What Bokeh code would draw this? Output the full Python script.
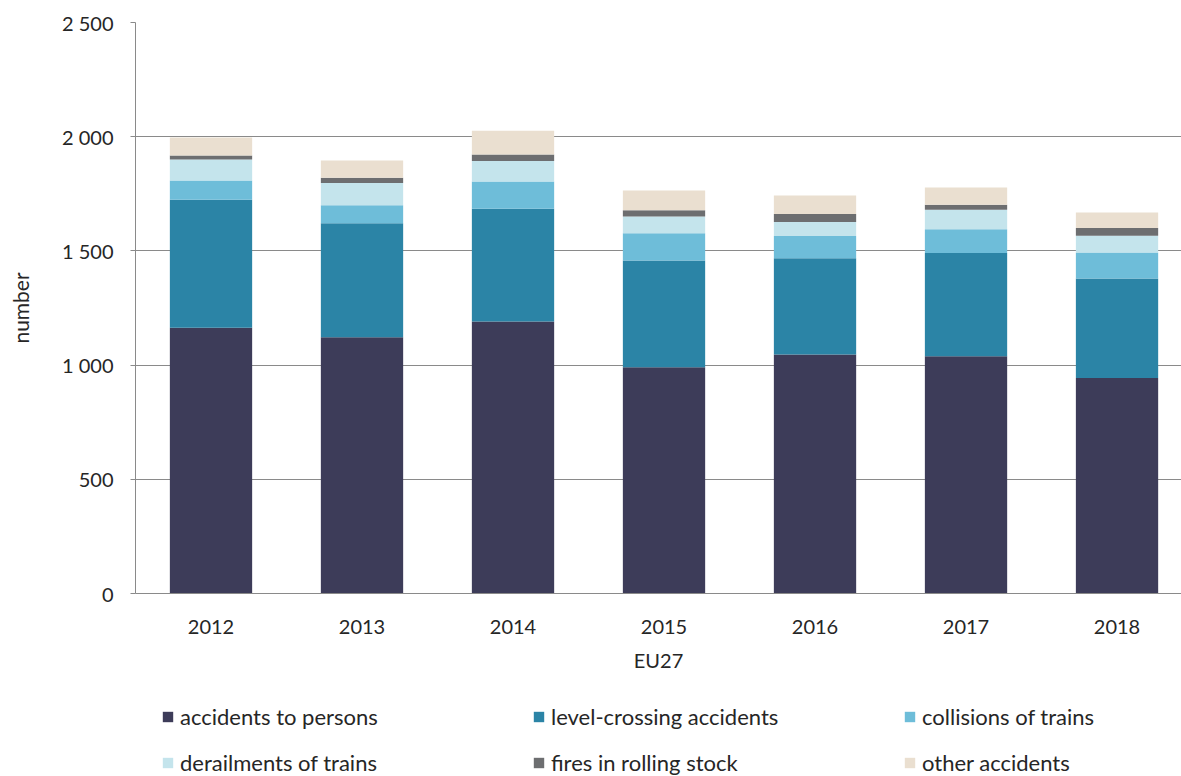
from bokeh.plotting import figure
from bokeh.models import ColumnDataSource, Range1d, FixedTicker, Legend, LegendItem
from bokeh.layouts import column
from bokeh.embed import file_html
from bokeh.resources import INLINE

years = ["2012", "2013", "2014", "2015", "2016", "2017", "2018"]
persons = [1163, 1122, 1191, 991, 1046, 1039, 943]
level_crossing = [561, 499, 493, 467, 422, 452, 436]
collisions = [84, 79, 120, 119, 97, 104, 114]
derailments = [92, 97, 90, 74, 62, 85, 73]
fires = [18, 23, 28, 27, 35, 22, 34]
other = [79, 76, 104, 86, 81, 76, 68]

series_names = ["accidents to persons", "level-crossing accidents", "collisions of trains",
                "derailments of trains", "fires in rolling stock", "other accidents"]
colors = ["#3d3c59", "#2b84a6", "#6ebdd9", "#c4e4ec", "#6d6e70", "#eadfd0"]
keys = ["persons", "level", "coll", "derail", "fire", "other"]
y_ticks = [0, 500, 1000, 1500, 2000, 2500]

FONT = "Lato"
TXT = "#262626"
W = 1181
H1 = 690
H2 = 86

xs = list(range(len(years)))
src = ColumnDataSource(dict(x=xs, persons=persons, level=level_crossing, coll=collisions,
                            derail=derailments, fire=fires, other=other))

p = figure(width=W, height=H1, output_backend="svg", toolbar_location=None,
           x_range=Range1d(-0.5, 6.427), y_range=Range1d(0, 2500),
           min_border_left=135, min_border_top=22, min_border_right=0,
           min_border_bottom=H1 - 22 - 571)
p.outline_line_color = None

rs = p.vbar_stack(keys, x="x", width=0.545, color=colors, line_color=None, source=src)

p.xgrid.grid_line_color = None
p.ygrid.grid_line_color = "#8a8a8a"
p.ygrid.grid_line_width = 1
p.ygrid.ticker = FixedTicker(ticks=y_ticks)

p.yaxis.ticker = FixedTicker(ticks=y_ticks)
p.yaxis.major_label_overrides = {t: f"{t:,}".replace(",", " ") for t in y_ticks}
p.yaxis.axis_label = "number"
p.yaxis.axis_line_color = "#8a8a8a"
p.yaxis.major_tick_line_color = "#8a8a8a"
p.yaxis.major_tick_out = 5
p.yaxis.major_tick_in = 0
p.yaxis.minor_tick_line_color = None
p.yaxis.major_label_standoff = 17
p.yaxis.axis_label_standoff = 26

p.xaxis.ticker = FixedTicker(ticks=xs)
p.xaxis.major_label_overrides = {i: y for i, y in enumerate(years)}
p.xaxis.axis_label = "EU27"
p.xaxis.axis_line_color = "#8a8a8a"
p.xaxis.major_tick_line_color = None
p.xaxis.minor_tick_line_color = None
p.xaxis.major_label_standoff = 20
p.xaxis.axis_label_standoff = 11

for ax in (p.xaxis, p.yaxis):
    ax.major_label_text_font = FONT
    ax.major_label_text_font_size = "20px"
    ax.major_label_text_color = TXT
    ax.axis_label_text_font = FONT
    ax.axis_label_text_font_size = "20px"
    ax.axis_label_text_font_style = "normal"
    ax.axis_label_text_color = TXT
p.yaxis.axis_label_text_font_size = "21px"

# legend panel below the chart (its frame is aligned with the chart's frame)
p2 = figure(width=W, height=H2, output_backend="svg", toolbar_location=None,
            x_range=Range1d(0, 1), y_range=Range1d(0, 1),
            min_border_left=135, min_border_right=0,
            min_border_top=0, min_border_bottom=0)
p2.outline_line_color = None
p2.axis.visible = False
p2.grid.visible = False
# invisible (zero-size) stand-ins that only carry the legend colours
dummies = [p2.vbar(x=[0], top=[0], bottom=[0], width=0, color=c, line_color=None) for c in colors]

# legend fills column by column: reorder so it reads row by row
order = [0, 3, 1, 4, 2, 5]
items = [LegendItem(label=series_names[i], renderers=[dummies[i]]) for i in order]
legend = Legend(items=items, ncols=3, location=(26, -2),
                glyph_width=13, glyph_height=13, label_standoff=6,
                label_width=338, label_height=32, spacing=14,
                padding=0, margin=0,
                label_text_font=FONT, label_text_font_size="22px", label_text_color=TXT,
                border_line_color=None, background_fill_alpha=0)
p2.add_layout(legend)

layout = column(p, p2, spacing=0)
open("out.html", "w").write(file_html(layout, INLINE))
